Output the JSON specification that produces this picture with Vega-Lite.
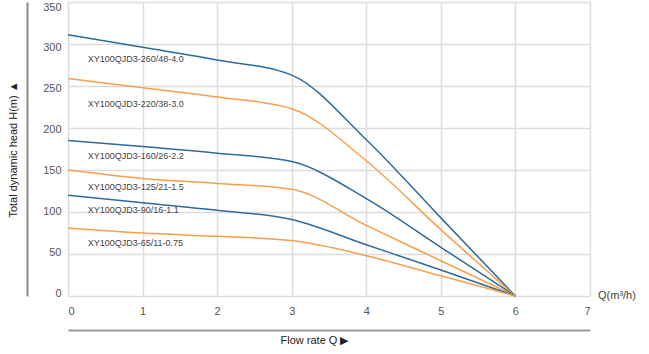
{
  "$schema": "https://vega.github.io/schema/vega-lite/v6.json",
  "width": 522,
  "height": 294,
  "autosize": "none",
  "padding": {"left": 68, "top": 2, "right": 59, "bottom": 58},
  "background": "white",
  "config": {"view": {"stroke": null}, "font": "Liberation Sans"},
  "datasets": {
    "curves": [
      {"model": "XY100QJD3-260/48-4.0", "q": 0, "h": 311},
      {"model": "XY100QJD3-260/48-4.0", "q": 1, "h": 296},
      {"model": "XY100QJD3-260/48-4.0", "q": 2, "h": 281},
      {"model": "XY100QJD3-260/48-4.0", "q": 3, "h": 263},
      {"model": "XY100QJD3-260/48-4.0", "q": 4, "h": 186},
      {"model": "XY100QJD3-260/48-4.0", "q": 5, "h": 93},
      {"model": "XY100QJD3-260/48-4.0", "q": 6, "h": 0},
      {"model": "XY100QJD3-220/38-3.0", "q": 0, "h": 259},
      {"model": "XY100QJD3-220/38-3.0", "q": 1, "h": 248},
      {"model": "XY100QJD3-220/38-3.0", "q": 2, "h": 237},
      {"model": "XY100QJD3-220/38-3.0", "q": 3, "h": 223},
      {"model": "XY100QJD3-220/38-3.0", "q": 4, "h": 161},
      {"model": "XY100QJD3-220/38-3.0", "q": 5, "h": 79},
      {"model": "XY100QJD3-220/38-3.0", "q": 6, "h": 0},
      {"model": "XY100QJD3-160/26-2.2", "q": 0, "h": 185},
      {"model": "XY100QJD3-160/26-2.2", "q": 1, "h": 178},
      {"model": "XY100QJD3-160/26-2.2", "q": 2, "h": 170},
      {"model": "XY100QJD3-160/26-2.2", "q": 3, "h": 160},
      {"model": "XY100QJD3-160/26-2.2", "q": 4, "h": 116},
      {"model": "XY100QJD3-160/26-2.2", "q": 5, "h": 58},
      {"model": "XY100QJD3-160/26-2.2", "q": 6, "h": 0},
      {"model": "XY100QJD3-125/21-1.5", "q": 0, "h": 150},
      {"model": "XY100QJD3-125/21-1.5", "q": 1, "h": 140},
      {"model": "XY100QJD3-125/21-1.5", "q": 2, "h": 134},
      {"model": "XY100QJD3-125/21-1.5", "q": 3, "h": 127},
      {"model": "XY100QJD3-125/21-1.5", "q": 4, "h": 84},
      {"model": "XY100QJD3-125/21-1.5", "q": 5, "h": 42},
      {"model": "XY100QJD3-125/21-1.5", "q": 6, "h": 0},
      {"model": "XY100QJD3-90/16-1.1", "q": 0, "h": 120},
      {"model": "XY100QJD3-90/16-1.1", "q": 1, "h": 111},
      {"model": "XY100QJD3-90/16-1.1", "q": 2, "h": 102},
      {"model": "XY100QJD3-90/16-1.1", "q": 3, "h": 91},
      {"model": "XY100QJD3-90/16-1.1", "q": 4, "h": 61},
      {"model": "XY100QJD3-90/16-1.1", "q": 5, "h": 31},
      {"model": "XY100QJD3-90/16-1.1", "q": 6, "h": 0},
      {"model": "XY100QJD3-65/11-0.75", "q": 0, "h": 81},
      {"model": "XY100QJD3-65/11-0.75", "q": 1, "h": 75},
      {"model": "XY100QJD3-65/11-0.75", "q": 2, "h": 71},
      {"model": "XY100QJD3-65/11-0.75", "q": 3, "h": 66},
      {"model": "XY100QJD3-65/11-0.75", "q": 4, "h": 48},
      {"model": "XY100QJD3-65/11-0.75", "q": 5, "h": 24},
      {"model": "XY100QJD3-65/11-0.75", "q": 6, "h": 0}
    ],
    "labels": [
      {"model": "XY100QJD3-260/48-4.0", "q": 0.264, "h": 282},
      {"model": "XY100QJD3-220/38-3.0", "q": 0.264, "h": 229},
      {"model": "XY100QJD3-160/26-2.2", "q": 0.264, "h": 167},
      {"model": "XY100QJD3-125/21-1.5", "q": 0.264, "h": 130},
      {"model": "XY100QJD3-90/16-1.1", "q": 0.264, "h": 102},
      {"model": "XY100QJD3-65/11-0.75", "q": 0.264, "h": 63.5}
    ],
    "unit": [
      {"t": "Q(m³/h)", "q": 7, "h": 0}
    ]
  },
  "layer": [
    {
      "data": {"name": "curves"},
      "mark": {"type": "line", "interpolate": "monotone", "strokeWidth": 1.5},
      "encoding": {
        "x": {
          "field": "q", "type": "quantitative",
          "scale": {"domain": [0, 7], "nice": false, "zero": false},
          "axis": {
            "orient": "bottom", "values": [0, 1, 2, 3, 4, 5, 6, 7], "grid": true,
            "gridColor": "#dddddd", "gridWidth": 1.5, "domain": false, "ticks": false,
            "labelColor": "#555555", "labelFontSize": 11, "labelPadding": 9,
            "labelFont": "Liberation Sans", "title": null, "format": "d"
          }
        },
        "y": {
          "field": "h", "type": "quantitative",
          "scale": {"domain": [0, 350], "nice": false, "zero": false},
          "axis": {
            "orient": "left", "values": [0, 50, 100, 150, 200, 250, 300, 350], "grid": true,
            "gridColor": "#dddddd", "gridWidth": 1.5, "domain": false, "ticks": false,
            "labelColor": "#555555", "labelFontSize": 11, "labelPadding": 7,
            "labelOffset": {"expr": "datum.value * 0.0229 - 3"},
            "labelFont": "Liberation Sans", "title": null
          }
        },
        "color": {
          "field": "model", "type": "nominal",
          "scale": {
            "domain": ["XY100QJD3-260/48-4.0", "XY100QJD3-220/38-3.0", "XY100QJD3-160/26-2.2", "XY100QJD3-125/21-1.5", "XY100QJD3-90/16-1.1", "XY100QJD3-65/11-0.75"],
            "range": ["#2e6a9f", "#f7a04a", "#2e6a9f", "#f7a04a", "#2e6a9f", "#f7a04a"]
          },
          "legend": null
        }
      }
    },
    {
      "data": {"name": "labels"},
      "mark": {"type": "text", "align": "left", "baseline": "middle", "fontSize": 9, "color": "#444444", "font": "Liberation Sans"},
      "encoding": {
        "x": {
          "field": "q", "type": "quantitative",
          "scale": {"domain": [0, 7], "nice": false, "zero": false},
          "axis": {
            "orient": "bottom", "offset": 34, "grid": false, "ticks": false, "labels": false,
            "domain": true, "domainColor": "#999999", "domainWidth": 2,
            "title": "Flow rate Q ▶", "titleFontSize": 11, "titleFontWeight": "normal",
            "titleColor": "#222222", "titlePadding": 4, "titleX": 246, "titleAnchor": "middle",
            "titleFont": "Liberation Sans"
          }
        },
        "y": {
          "field": "h", "type": "quantitative",
          "scale": {"domain": [0, 350], "nice": false, "zero": false},
          "axis": {
            "orient": "left", "offset": 41, "grid": false, "ticks": false, "labels": false,
            "domain": true, "domainColor": "#888888", "domainWidth": 2,
            "title": "Total dynamic head H(m) ▲", "titleFontSize": 11, "titleFontWeight": "normal",
            "titleColor": "#222222", "titlePadding": 9, "titleFont": "Liberation Sans"
          }
        },
        "text": {"field": "model", "type": "nominal"}
      }
    },
    {
      "data": {"name": "unit"},
      "mark": {"type": "text", "align": "left", "baseline": "middle", "dx": 8, "fontSize": 11, "color": "#444444", "font": "Liberation Sans"},
      "encoding": {
        "x": {"field": "q", "type": "quantitative", "axis": null},
        "y": {"field": "h", "type": "quantitative", "axis": null},
        "text": {"field": "t", "type": "nominal"}
      }
    }
  ],
  "resolve": {"axis": {"x": "independent", "y": "independent"}}
}
